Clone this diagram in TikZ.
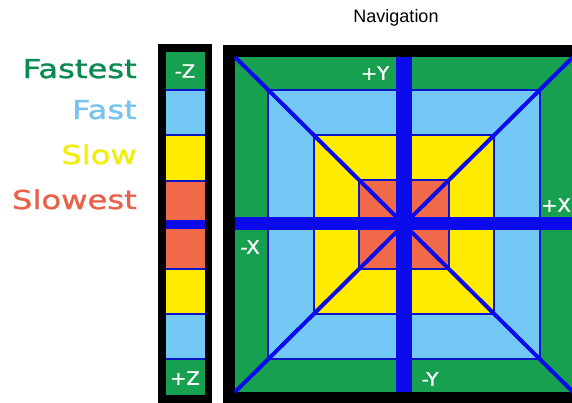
\documentclass[tikz,border=0pt]{standalone}
\usepackage{fontspec}
\setmainfont{DejaVu Sans}
\newfontfamily\lblfont[FakeStretch=1.24,FakeBold=1.2]{DejaVu Sans}
\newfontfamily\axfont[FakeStretch=1.05,FakeBold=1.5]{DejaVu Sans}
\newfontfamily\navfont{Liberation Sans}
\definecolor{cgreen}{RGB}{22,160,80}
\definecolor{clblue}{RGB}{115,200,245}
\definecolor{cyellow}{RGB}{255,235,0}
\definecolor{cred}{RGB}{240,105,72}
\definecolor{cblue}{RGB}{10,10,235}
\definecolor{cline}{RGB}{10,20,200}
\definecolor{tgreen}{RGB}{10,138,80}
\definecolor{tblue}{RGB}{120,195,240}
\definecolor{tyellow}{RGB}{240,238,10}
\definecolor{tred}{RGB}{232,98,75}
\begin{document}
\begin{tikzpicture}[x=1pt,y=-1pt,
  ring/.style={draw=cline,line width=1.3pt},
  sep/.style={draw=cline,line width=2pt},
  axis/.style={text=white,font=\axfont\fontsize{18.5}{18.5}\selectfont,inner sep=0pt},
  speed/.style={anchor=base east,inner sep=0pt,font=\lblfont\fontsize{26}{26}\selectfont}]
\useasboundingbox (0,0) rectangle (572,402);
\fill[white] (0,0) rectangle (572,402);
\clip (0,0) rectangle (572,402);
% title
\node[inner sep=0pt,font=\navfont\fontsize{18}{18}\selectfont] (nav) at (396,18) {Navigation};
% speed legend
\node[speed,text=tgreen] (fastest) at (137,78) {Fastest};
\node[speed,text=tblue] (fast) at (137,119) {Fast};
\node[speed,text=tyellow] (slow) at (137,164) {Slow};
\node[speed,text=tred] (slowest) at (137,209) {Slowest};
% Z bar
\fill[black] (158,44) rectangle (212,410);
\fill[cgreen] (166,52) rectangle (205,90);
\fill[clblue] (166,90) rectangle (205,135);
\fill[cyellow] (166,135) rectangle (205,181);
\fill[cred] (166,181) rectangle (205,220);
\fill[cblue] (166,220) rectangle (205,229);
\fill[cred] (166,229) rectangle (205,269);
\fill[cyellow] (166,269) rectangle (205,314);
\fill[clblue] (166,314) rectangle (205,359);
\fill[cgreen] (166,359) rectangle (205,395);
\foreach \yy in {90,135,181,269,314,359}
  \draw[sep] (166,\yy) -- (205,\yy);
% main square
\fill[black] (223,45) rectangle (600,420);
\fill[cgreen] (235,57) rectangle (573,392);
\filldraw[fill=clblue,ring] (268,90) rectangle (540,359);
\filldraw[fill=cyellow,ring] (314,135) rectangle (494,314);
\filldraw[fill=cred,ring] (359,180) rectangle (449,269);
\draw[cblue,line width=4pt] (235,57) -- (573,392);
\draw[cblue,line width=4pt] (573,57) -- (235,392);
\fill[cblue] (396,57) rectangle (412,392);
\fill[cblue] (235,217) rectangle (573,230);
% axis labels
\node[axis] (mz) at (185,71) {-Z};
\node[axis] (pz) at (185,378) {+Z};
\node[axis] (py) at (375,73) {+Y};
\node[axis] (my) at (430,379) {-Y};
\node[axis] (mx) at (250,247) {-X};
\node[axis] (px) at (556,205) {+X};
\end{tikzpicture}
\end{document}
